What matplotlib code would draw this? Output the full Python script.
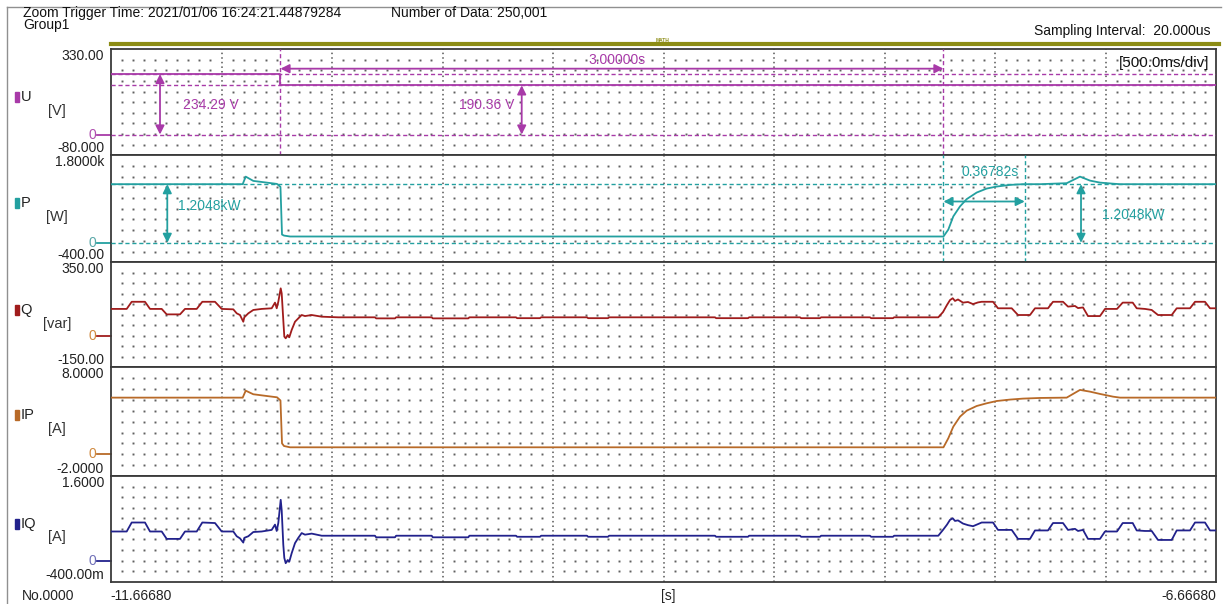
import matplotlib
matplotlib.use("Agg")
import matplotlib.pyplot as plt
from matplotlib.lines import Line2D
from matplotlib.patches import Rectangle

# zoomed record window (s), 500 ms/div
T_START = -11.66680
T_END = -6.66680
DIV = 0.5

# cursor positions (s)
cursor_t = [-10.9000, -7.9000]
settle_t = -7.53218

# U [V]
u_before = 234.29
u_after = 190.36
u_t = [-11.6668, -10.9000, -10.9000, -6.6668]
u_v = [u_before, u_before, u_after, u_after]

# P [W] and IP [A] (same sample times)
p_level = 1204.8
p_t = [-11.6668, -11.0709, -11.0573, -11.0229, -10.9623, -10.9157, -10.9000, -10.8930,
       -10.8840, -10.8568, -7.9000, -7.8781, -7.8555, -7.8252, -7.7949, -7.7496, -7.7044,
       -7.6591, -7.5989, -7.5401, -7.4632, -7.3424, -7.2822, -7.2369, -7.1917, -7.1329,
       -7.1012, -6.6668]
p_w = [1204.8, 1204.8, 1360, 1272, 1237, 1210, 1150, 170, 149, 130, 130, 272, 543, 748,
       898, 1033, 1115, 1156, 1190, 1204.8, 1204.8, 1225, 1360, 1278, 1237, 1215, 1204.8,
       1204.8]
ip_a = [5.21, 5.21, 5.85, 5.52, 5.36, 5.24, 4.95, 1.0, 0.76, 0.64, 0.64, 1.47, 2.54, 3.46,
        4.01, 4.44, 4.69, 4.90, 5.03, 5.12, 5.18, 5.21, 5.92, 5.76, 5.55, 5.30, 5.21, 5.21]

# Q [var] and IQ [A] (same sample times), before / steady / after
q_t_before = [-11.6668, -11.5958, -11.5731, -11.5130, -11.4903, -11.4374, -11.4148, -11.3546,
              -11.3320, -11.2790, -11.2537, -11.1962, -11.1659, -11.1134, -11.0980, -11.0831,
              -11.0682, -11.0636, -11.0455, -11.0229, -10.9849, -10.9397, -10.9247, -10.9170,
              -10.9098, -10.8989, -10.8944, -10.8872, -10.8826, -10.8763, -10.8673, -10.8600,
              -10.8492, -10.8342, -10.8193, -10.8039, -10.7890, -10.7587, -10.7134, -10.6383]
q_before = [128, 128, 162, 162, 128, 128, 102, 102, 128, 128, 162, 162, 128, 126, 107, 99, 67,
            88, 107, 123, 128, 131, 158, 131, 162, 226, 202, 75, -4, -12, 4, -7, 28, 67, 83,
            99, 94, 99, 91, 88]
iq_before = [0.55, 0.55, 0.72, 0.72, 0.55, 0.55, 0.41, 0.41, 0.55, 0.55, 0.72, 0.71, 0.55,
             0.55, 0.46, 0.42, 0.34, 0.43, 0.46, 0.54, 0.55, 0.58, 0.68, 0.56, 0.71, 1.15,
             0.95, 0.30, 0.05, -0.05, 0.01, -0.02, 0.14, 0.33, 0.43, 0.52, 0.49, 0.51, 0.47,
             0.47]

q_t_steady = [-10.4722, -10.4672, -10.3817, -10.3767, -10.2157, -10.2107, -10.0501, -10.0451,
              -9.8342, -9.8292, -9.7256, -9.7206, -9.5130, -9.5080, -9.4179, -9.4129,
              -8.9338, -8.9288, -8.7844, -8.7794, -8.5492, -8.5442, -8.4587, -8.4537,
              -8.2324, -8.2274, -8.1283, -8.1233]
q_steady = [88, 83, 83, 88, 88, 83, 83, 88, 88, 84, 84, 88, 88, 84, 84, 88,
            88, 84, 84, 88, 88, 84, 84, 88, 88, 84, 84, 88]
iq_steady = [0.47, 0.44, 0.44, 0.47, 0.47, 0.44, 0.44, 0.47, 0.47, 0.45, 0.45, 0.47,
             0.47, 0.45, 0.45, 0.47, 0.47, 0.45, 0.45, 0.47, 0.47, 0.45, 0.45, 0.47,
             0.47, 0.45, 0.45, 0.47]

q_t_after = [-7.9234, -7.9021, -7.8840, -7.8704, -7.8582, -7.8478, -7.8342, -7.8116, -7.7890,
             -7.7663, -7.7437, -7.7270, -7.6758, -7.6532, -7.5912, -7.5627, -7.5084, -7.4858,
             -7.4270, -7.4044, -7.3591, -7.3365, -7.3048, -7.2912, -7.2686, -7.2460, -7.1917,
             -7.1691, -7.1148, -7.0890, -7.0437, -7.0256, -6.9881, -6.9578, -6.9292, -6.8673,
             -6.8446, -6.7844, -6.7618, -6.7166, -6.6939, -6.6668]
q_after = [88, 113, 147, 170, 179, 166, 173, 158, 161, 151, 159, 162, 162, 131, 131, 99, 99,
           131, 131, 162, 162, 139, 142, 132, 135, 94, 94, 128, 128, 158, 158, 131, 128, 123,
           99, 99, 131, 131, 162, 162, 131, 131]
iq_after = [0.47, 0.58, 0.68, 0.77, 0.80, 0.75, 0.76, 0.70, 0.67, 0.65, 0.69, 0.72, 0.72,
            0.58, 0.58, 0.41, 0.41, 0.57, 0.57, 0.71, 0.71, 0.58, 0.60, 0.56, 0.58, 0.41,
            0.41, 0.55, 0.55, 0.71, 0.71, 0.57, 0.56, 0.56, 0.39, 0.39, 0.57, 0.57, 0.72,
            0.72, 0.57, 0.57]

q_t = q_t_before + q_t_steady + q_t_after
q_var = q_before + q_steady + q_after
iq_a = iq_before + iq_steady + iq_after

names = ["U", "P", "Q", "IP", "IQ"]
units = ["[V]", "[W]", "[var]", "[A]", "[A]"]
ylims = [(-80, 330), (-400, 1800), (-150, 350), (-2, 8), (-0.4, 1.6)]
top_labels = ["330.00", "1.8000k", "350.00", "8.0000", "1.6000"]
bot_labels = ["-80.000", "-400.00", "-150.00", "-2.0000", "-400.00m"]
colors = ["#a83aa8", "#23a0a0", "#a01c1c", "#b86a28", "#22228c"]
zero_colors = ["#b050b0", "#5aa8a8", "#d08a40", "#d08a40", "#7070b8"]

W, H = 1223, 604
plt.rcParams["font.family"] = ["Liberation Sans", "DejaVu Sans"]
plt.rcParams["font.size"] = 10
fig = plt.figure(figsize=(W / 100, H / 100), dpi=100)


def fx(px):
    return px / W


def fy(py):
    return 1 - py / H


# panel borders (pixels from top)
edges = [49.3, 155.2, 262.3, 367.3, 476.0, 581.7]
series = [(u_t, u_v), (p_t, p_w), (q_t, q_var), (p_t, ip_a), (q_t, iq_a)]

axes = []
for i in range(5):
    top, bot = edges[i], edges[i + 1]
    ax = fig.add_axes([fx(111), fy(bot), fx(1216) - fx(111), (bot - top) / H])
    ax.set_xlim(T_START, T_END)
    ax.set_ylim(*ylims[i])
    ax.set_xticks([])
    ax.set_yticks([])
    for s in ax.spines.values():
        s.set_color("#3a3a3a")
        s.set_linewidth(1.3)

    # dotted grid
    trans = ax.get_xaxis_transform()
    for k in range(1, 10):
        ax.axvline(T_START + k * DIV, color="#555555", lw=1.1, ls=(0, (1, 2)), zorder=1)
    xs = [T_START + k * DIV / 10 for k in range(1, 100) if k % 10]
    for j in range(1, 10):
        ax.plot(xs, [j / 10] * len(xs), transform=trans, ls="none", marker="s",
                ms=1.4, mew=0, color="#606060", zorder=1)

    t, v = series[i]
    ax.plot(t, v, color=colors[i], lw=1.3, zorder=4)

    # range labels and zero marker
    ax.text(-0.0063, 1.0, top_labels[i], transform=ax.transAxes, ha="right", va="top",
            color="#222222")
    ax.text(-0.0063, 0.0, bot_labels[i], transform=ax.transAxes, ha="right", va="bottom",
            color="#222222")
    yt = ax.get_yaxis_transform()
    ax.plot([-0.0127, 0], [0, 0], transform=yt, color=colors[i], lw=1.3, clip_on=False)
    ax.text(-0.0135, 0, "0", transform=yt, ha="right", va="center", color=zero_colors[i])

    # channel name and unit
    fig.patches.append(Rectangle((fx(14.5), fy(top + 53)), fx(4), 10 / H,
                                 transform=fig.transFigure, color=colors[i]))
    fig.text(fx(20.5), fy(top + 48), names[i], ha="left", va="center", fontsize=10.5,
             color="#222222")
    fig.text(fx(57), fy(top + 61.5), units[i], ha="center", va="center", fontsize=10.5,
             color="#333333")
    axes.append(ax)

ax_u, ax_p = axes[0], axes[1]
cu, cp = colors[0], colors[1]
dash = (0, (3, 2))

# U cursors
for lv in [0, u_before, u_after]:
    ax_u.axhline(lv, color=cu, lw=1.0, ls=dash, zorder=3)
for ct in cursor_t:
    ax_u.axvline(ct, color=cu, lw=1.0, ls=dash, zorder=3)
arr = dict(arrowstyle="<|-|>", lw=1.3, mutation_scale=13, shrinkA=0, shrinkB=0)
ax_u.annotate("", xy=(-11.4451, u_before), xytext=(-11.4451, 0),
              arrowprops=dict(arr, color=cu))
ax_u.text(-11.3428, 113, f"{u_before:.2f} V", color=cu, ha="left", va="center")
ax_u.annotate("", xy=(-9.8084, u_after), xytext=(-9.8084, 0),
              arrowprops=dict(arr, color=cu))
ax_u.text(-10.0944, 113, f"{u_after:.2f} V", color=cu, ha="left", va="center")
ax_u.annotate("", xy=(cursor_t[0], 255), xytext=(cursor_t[1], 255),
              arrowprops=dict(arr, color=cu))
ax_u.text(-9.3772, 290, f"{cursor_t[1] - cursor_t[0]:.5f}s", color=cu, ha="center",
          va="center")
ax_u.text(0.9937, 0.875, "[500.0ms/div]", transform=ax_u.transAxes, ha="right",
          va="center", fontsize=11, color="#111111")

# P cursors
for lv in [0, p_level]:
    ax_p.axhline(lv, color=cp, lw=1.0, ls=dash, zorder=3)
for ct in [cursor_t[1], settle_t]:
    ax_p.axvline(ct, color=cp, lw=1.0, ls=dash, zorder=3)
ax_p.annotate("", xy=(-11.4121, p_level), xytext=(-11.4121, 0),
              arrowprops=dict(arr, color=cp))
ax_p.text(-11.3636, 747, "1.2048kW", color=cp, ha="left", va="center")
ax_p.annotate("", xy=(-7.2776, p_level), xytext=(-7.2776, 0),
              arrowprops=dict(arr, color=cp))
ax_p.text(-7.1840, 578, "1.2048kW", color=cp, ha="left", va="center")
ax_p.annotate("", xy=(cursor_t[1], 849), xytext=(settle_t, 849),
              arrowprops=dict(arr, color=cp))
ax_p.text(-7.6872, 1462, f"{settle_t - cursor_t[1]:.5f}s", color=cp, ha="center",
          va="center")

# header
fig.text(fx(23), fy(13), "Zoom Trigger Time: 2021/01/06 16:24:21.44879284", ha="left",
         va="center", color="#111111")
fig.text(fx(23), fy(25), "Group1", ha="left", va="center", color="#111111")
fig.text(fx(391), fy(13), "Number of Data: 250,001", ha="left", va="center",
         color="#111111")
fig.text(fx(1211), fy(31.5), "Sampling Interval:  20.000us", ha="right", va="center",
         color="#111111")
fig.add_artist(Line2D([fx(111), fx(1219)], [fy(44), fy(44)], color="#8c8c14", lw=3))
fig.text(fx(663), fy(40), "MATH", ha="center", va="center", fontsize=3.5,
         fontweight="bold", color="#8c8c14")

# outer frame
fig.add_artist(Line2D([fx(7), fx(1221)], [fy(6.5), fy(6.5)], color="#909090", lw=1))
fig.add_artist(Line2D([fx(7.3), fx(7.3)], [fy(6.5), 0], color="#909090", lw=1))

# footer
fig.text(fx(22), fy(596), "No.0000", ha="left", va="center", color="#222222")
fig.text(fx(110), fy(596), f"{T_START:.5f}", ha="left", va="center", color="#222222")
fig.text(fx(668), fy(596), "[s]", ha="center", va="center", color="#222222")
fig.text(fx(1216), fy(596), f"{T_END:.5f}", ha="right", va="center", color="#222222")

fig.savefig("out.png", dpi=100)
